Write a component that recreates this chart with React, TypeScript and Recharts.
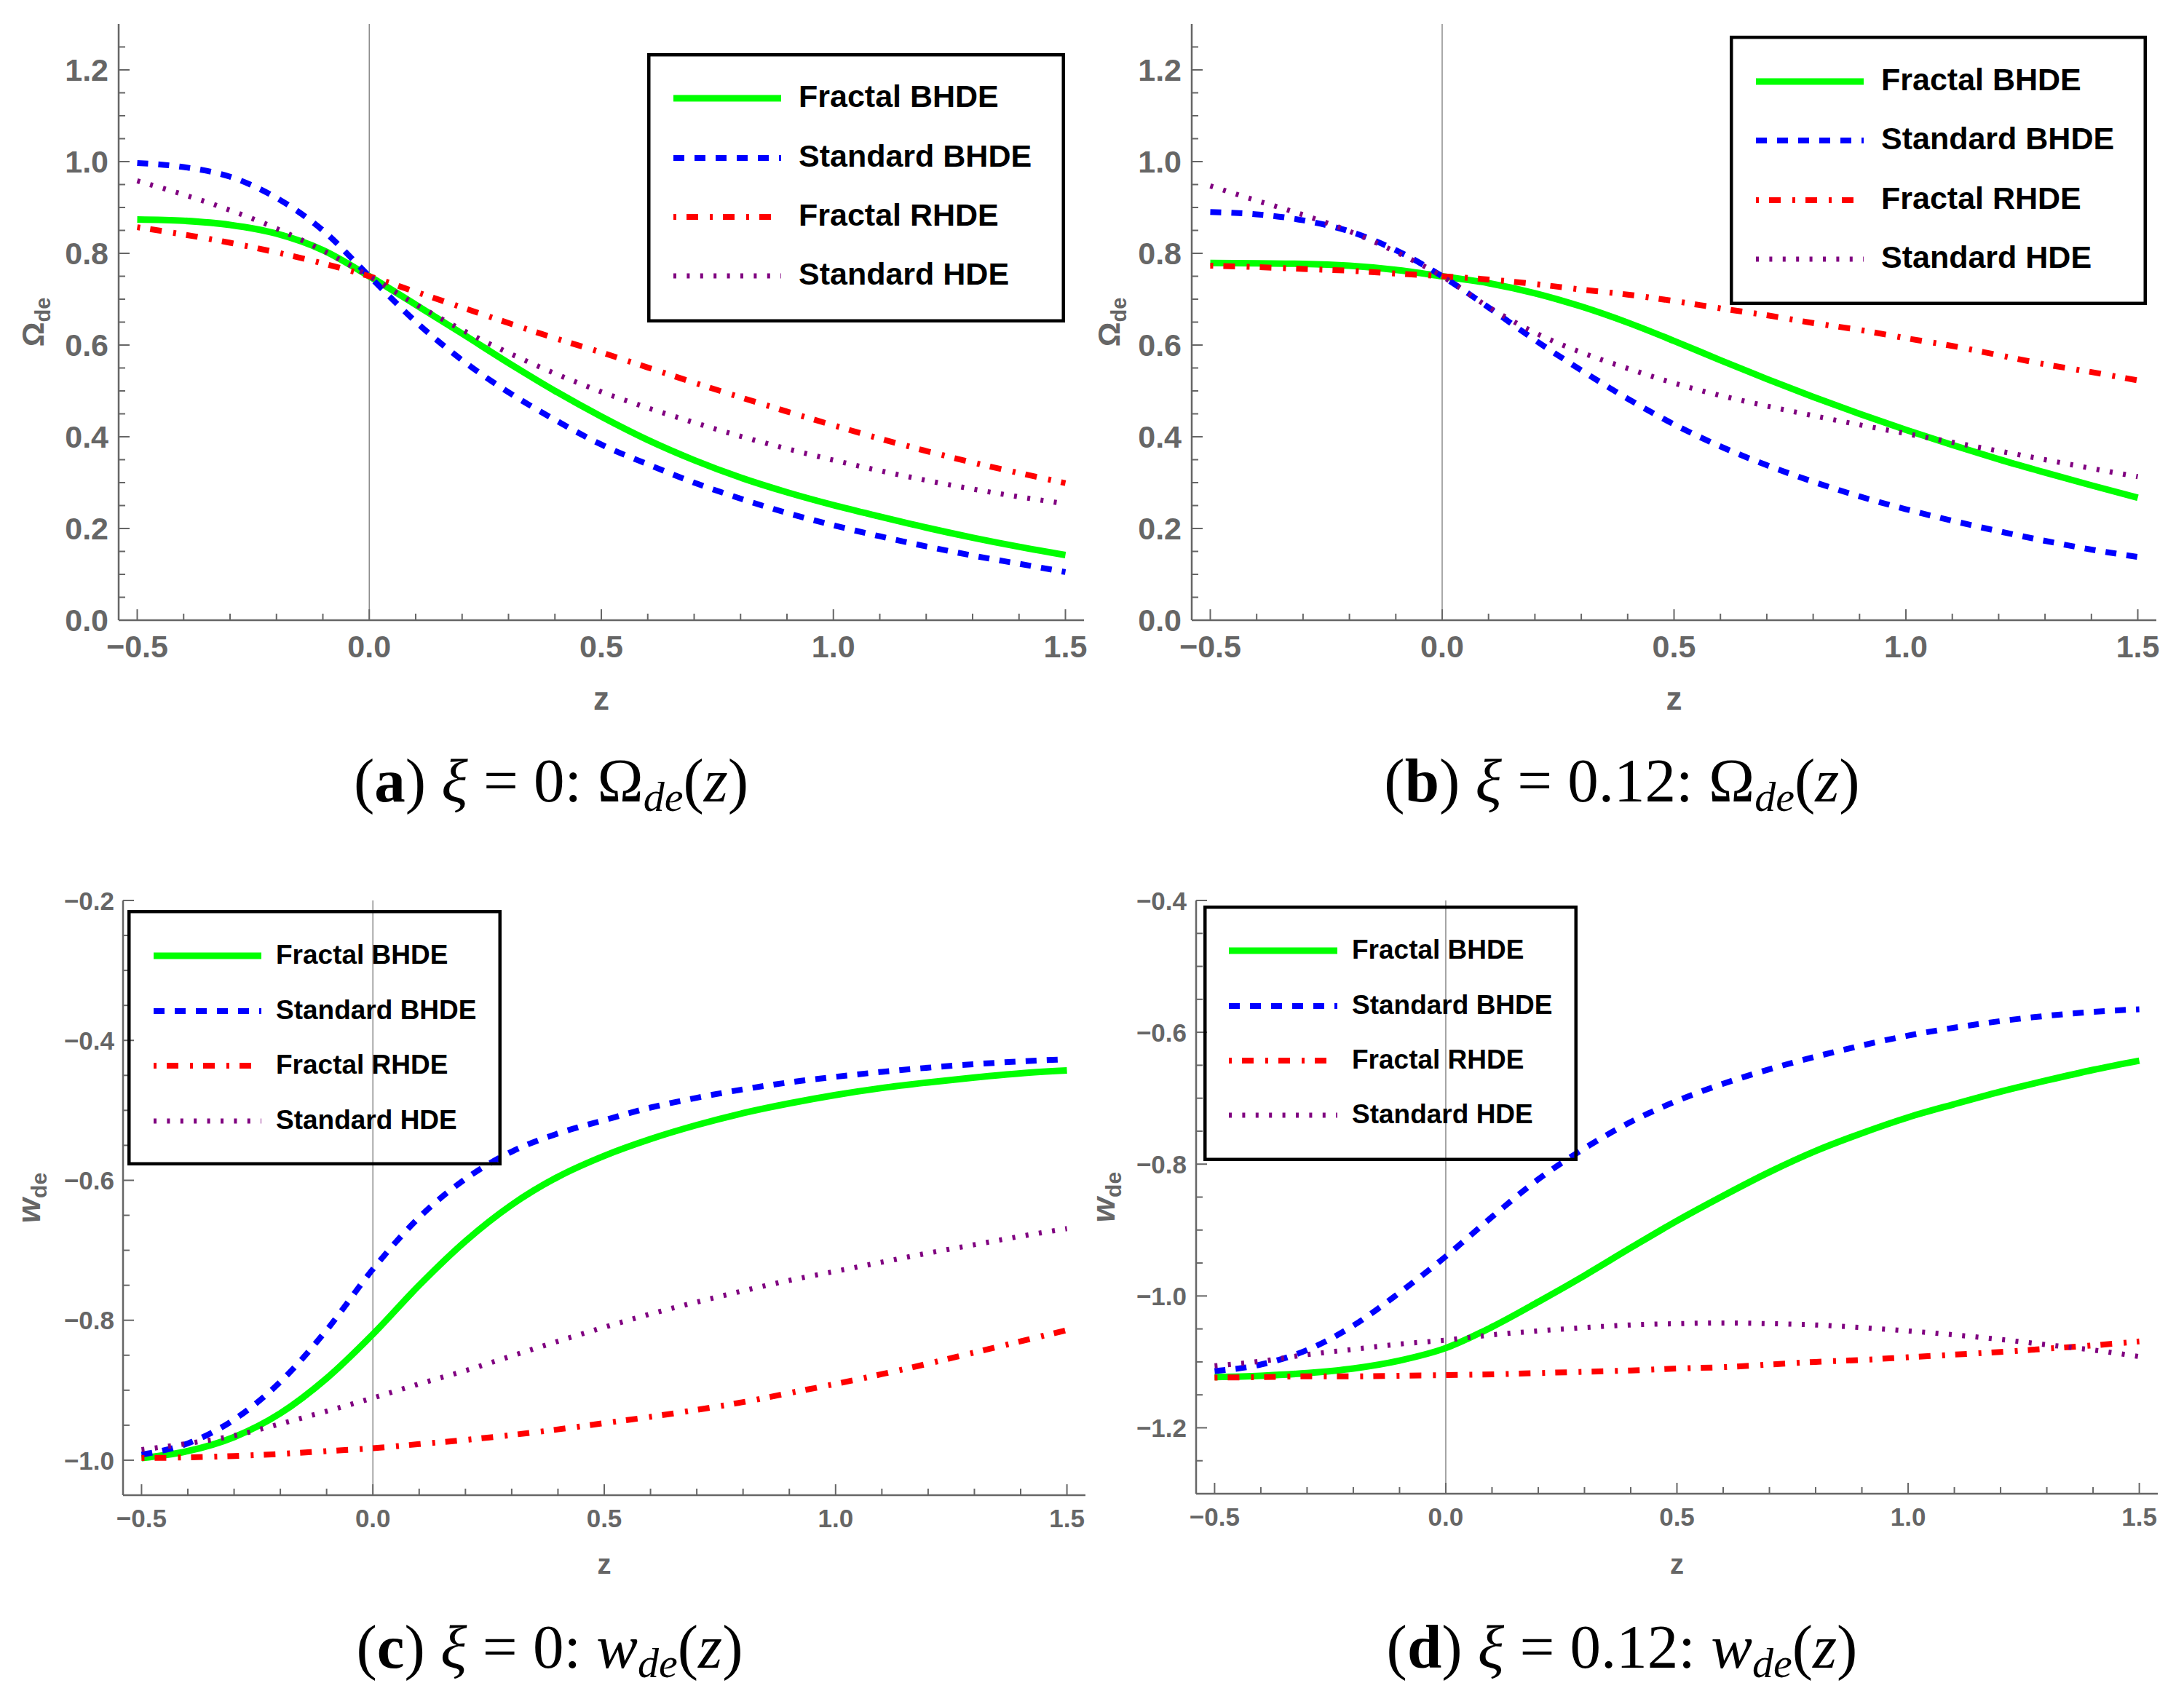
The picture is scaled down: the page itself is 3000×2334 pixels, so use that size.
import React from 'react';
import { LineChart, Line, XAxis, YAxis, ReferenceLine, Legend } from 'recharts';

// ---------------- data ----------------
const Z = [-0.5, -0.4, -0.3, -0.2, -0.1, 0, 0.1, 0.2, 0.3, 0.4, 0.5, 0.6, 0.7, 0.8, 0.9, 1.0, 1.1, 1.2, 1.3, 1.4, 1.5];

// (a) xi = 0 : Omega_de
const A_FRACTAL_BHDE = [0.874, 0.871, 0.862, 0.843, 0.807, 0.750, 0.688, 0.625, 0.561, 0.500, 0.444, 0.393, 0.349, 0.311, 0.279, 0.251, 0.226, 0.202, 0.180, 0.160, 0.142];
const A_STANDARD_BHDE = [0.997, 0.988, 0.967, 0.921, 0.850, 0.750, 0.651, 0.567, 0.497, 0.437, 0.383, 0.340, 0.300, 0.265, 0.234, 0.207, 0.183, 0.161, 0.141, 0.123, 0.105];
const A_FRACTAL_RHDE = [0.857, 0.841, 0.823, 0.802, 0.778, 0.750, 0.716, 0.682, 0.648, 0.615, 0.584, 0.551, 0.518, 0.486, 0.455, 0.425, 0.396, 0.369, 0.344, 0.321, 0.299];
const A_STANDARD_HDE = [0.958, 0.928, 0.894, 0.854, 0.806, 0.750, 0.689, 0.633, 0.583, 0.538, 0.498, 0.463, 0.431, 0.401, 0.374, 0.349, 0.326, 0.305, 0.286, 0.269, 0.254];

// (b) xi = 0.12 : Omega_de
const B_FRACTAL_BHDE = [0.779, 0.778, 0.777, 0.773, 0.764, 0.750, 0.735, 0.713, 0.684, 0.649, 0.609, 0.567, 0.526, 0.487, 0.450, 0.415, 0.382, 0.351, 0.322, 0.294, 0.267];
const B_STANDARD_BHDE = [0.890, 0.885, 0.872, 0.848, 0.807, 0.750, 0.682, 0.611, 0.545, 0.483, 0.427, 0.379, 0.338, 0.302, 0.270, 0.242, 0.217, 0.194, 0.173, 0.154, 0.138];
const B_FRACTAL_RHDE = [0.773, 0.770, 0.766, 0.762, 0.756, 0.750, 0.743, 0.733, 0.721, 0.710, 0.696, 0.680, 0.665, 0.648, 0.633, 0.615, 0.598, 0.578, 0.558, 0.541, 0.523];
const B_STANDARD_HDE = [0.947, 0.915, 0.884, 0.848, 0.803, 0.750, 0.683, 0.627, 0.584, 0.549, 0.517, 0.490, 0.467, 0.446, 0.426, 0.407, 0.388, 0.369, 0.350, 0.331, 0.313];

// (c) xi = 0 : w_de
const C_FRACTAL_BHDE = [-0.997, -0.987, -0.967, -0.933, -0.883, -0.820, -0.750, -0.687, -0.635, -0.595, -0.565, -0.541, -0.521, -0.504, -0.490, -0.478, -0.468, -0.460, -0.453, -0.447, -0.443];
const C_STANDARD_BHDE = [-0.992, -0.976, -0.942, -0.888, -0.814, -0.727, -0.653, -0.598, -0.559, -0.533, -0.514, -0.496, -0.482, -0.470, -0.460, -0.452, -0.445, -0.439, -0.434, -0.430, -0.427];
const C_FRACTAL_RHDE = [-0.997, -0.996, -0.994, -0.991, -0.987, -0.983, -0.977, -0.971, -0.964, -0.956, -0.947, -0.938, -0.928, -0.917, -0.904, -0.891, -0.877, -0.862, -0.846, -0.830, -0.814];
const C_STANDARD_HDE = [-0.985, -0.976, -0.965, -0.948, -0.930, -0.911, -0.891, -0.872, -0.851, -0.830, -0.810, -0.791, -0.774, -0.758, -0.743, -0.730, -0.717, -0.704, -0.692, -0.680, -0.669];

// (d) xi = 0.12 : w_de
const D_FRACTAL_BHDE = [-1.123, -1.121, -1.117, -1.110, -1.098, -1.079, -1.047, -1.009, -0.969, -0.927, -0.886, -0.848, -0.812, -0.780, -0.753, -0.729, -0.709, -0.690, -0.673, -0.657, -0.643];
const D_STANDARD_BHDE = [-1.114, -1.104, -1.082, -1.045, -0.995, -0.940, -0.880, -0.823, -0.776, -0.736, -0.704, -0.678, -0.656, -0.637, -0.620, -0.605, -0.593, -0.583, -0.575, -0.569, -0.565];
const D_FRACTAL_RHDE = [-1.124, -1.123, -1.122, -1.122, -1.121, -1.120, -1.119, -1.117, -1.115, -1.113, -1.110, -1.108, -1.104, -1.100, -1.097, -1.093, -1.089, -1.085, -1.080, -1.075, -1.069];
const D_STANDARD_HDE = [-1.106, -1.099, -1.089, -1.081, -1.073, -1.067, -1.059, -1.053, -1.048, -1.044, -1.042, -1.041, -1.042, -1.044, -1.048, -1.053, -1.059, -1.066, -1.074, -1.082, -1.092];

const SERIES_NAMES = ['Fractal BHDE', 'Standard BHDE', 'Fractal RHDE', 'Standard HDE'];
const SERIES_KEYS = ['fBHDE', 'sBHDE', 'fRHDE', 'sHDE'];

// ticks
const X_TICKS = [-0.5, -0.4, -0.3, -0.2, -0.1, 0, 0.1, 0.2, 0.3, 0.4, 0.5, 0.6, 0.7, 0.8, 0.9, 1.0, 1.1, 1.2, 1.3, 1.4, 1.5];
const X_MAJOR = [-0.5, 0, 0.5, 1.0, 1.5];
const Y_OMEGA_TICKS = [0, 0.05, 0.1, 0.15, 0.2, 0.25, 0.3, 0.35, 0.4, 0.45, 0.5, 0.55, 0.6, 0.65, 0.7, 0.75, 0.8, 0.85, 0.9, 0.95, 1.0, 1.05, 1.1, 1.15, 1.2, 1.25];
const Y_OMEGA_MAJOR = [0, 0.2, 0.4, 0.6, 0.8, 1.0, 1.2];
const Y_W0_TICKS = [-1.0, -0.95, -0.9, -0.85, -0.8, -0.75, -0.7, -0.65, -0.6, -0.55, -0.5, -0.45, -0.4, -0.35, -0.3, -0.25, -0.2];
const Y_W0_MAJOR = [-1.0, -0.8, -0.6, -0.4, -0.2];
const Y_W12_TICKS = [-1.25, -1.2, -1.15, -1.1, -1.05, -1.0, -0.95, -0.9, -0.85, -0.8, -0.75, -0.7, -0.65, -0.6, -0.55, -0.5, -0.45, -0.4];
const Y_W12_MAJOR = [-1.2, -1.0, -0.8, -0.6, -0.4];

// ---------------- styles ----------------
const FRAME = '#666666';
const SANS = "'Liberation Sans', Arial, Helvetica, sans-serif";
const SERIF = "'Liberation Serif', 'Times New Roman', serif";
const X_DOMAIN = [-0.54, 1.54];
const Y_AXIS_W = 100;
const X_AXIS_H = 100;

const LINE_STYLES = [
  { color: '#00ff00', width: 9, dash: undefined },
  { color: '#0000ff', width: 8, dash: '15 14' },
  { color: '#ff0000', width: 8, dash: '4 14 16 16' },
  { color: '#800080', width: 7, dash: '4 14.4' },
];

const near = (v, arr) => arr.some((m) => Math.abs(m - v) < 1e-6);
const fmt = (v) => {
  const s = Math.abs(v).toFixed(1);
  return v < -1e-9 ? '\u2212' + s : s;
};

const makeBottomTick = (majors, font, dy) => (p) => {
  const { x, y, payload } = p;
  const M = near(payload.value, majors);
  return (
    <g>
      <line x1={x} x2={x} y1={y} y2={y - (M ? 15 : 9)} stroke={FRAME} strokeWidth={2} />
      {M ? (
        <text x={x} y={y + dy} textAnchor="middle" fontFamily={SANS} fontWeight="bold" fontSize={font} fill={FRAME}>
          {fmt(payload.value)}
        </text>
      ) : null}
    </g>
  );
};
const makeTopTick = (majors) => (p) => {
  const { x, y, payload } = p;
  const M = near(payload.value, majors);
  return <line x1={x} x2={x} y1={y} y2={y + (M ? 15 : 9)} stroke={FRAME} strokeWidth={2} />;
};
const makeLeftTick = (majors, font, gap) => (p) => {
  const { x, y, payload } = p;
  const M = near(payload.value, majors);
  return (
    <g>
      <line x1={x} x2={x + (M ? 15 : 9)} y1={y} y2={y} stroke={FRAME} strokeWidth={2} />
      {M ? (
        <text x={x - gap} y={y + font * 0.36} textAnchor="end" fontFamily={SANS} fontWeight="bold" fontSize={font} fill={FRAME}>
          {fmt(payload.value)}
        </text>
      ) : null}
    </g>
  );
};
const makeRightTick = (majors) => (p) => {
  const { x, y, payload } = p;
  const M = near(payload.value, majors);
  return <line x1={x} x2={x - (M ? 15 : 9)} y1={y} y2={y} stroke={FRAME} strokeWidth={2} />;
};

const PANELS = [
  {
    id: 'a', left: 0, top: 0, w: 1500, h: 1050,
    plot: { l: 163, r: 1489, t: 33, b: 852 },
    yDomain: [0, 1.3], yTicks: Y_OMEGA_TICKS, yMajor: Y_OMEGA_MAJOR,
    tickFont: 43, xLabelDy: 51, yGap: 14,
    series: [A_FRACTAL_BHDE, A_STANDARD_BHDE, A_FRACTAL_RHDE, A_STANDARD_HDE],
    legend: { l: 889, t: 73, w: 574, h: 370, rows: [62, 144, 225, 306], lx: [36, 184], tx: 208, font: 43, base: 12 },
    yTitle: { sym: '\u03a9', italic: false, x: 60, font: 42, sub: 29, dy: 9 },
    xTitle: { dy: 123, font: 44 },
  },
  {
    id: 'b', left: 1460, top: 0, w: 1540, h: 1050,
    plot: { l: 177, r: 1502, t: 33, b: 852 },
    yDomain: [0, 1.3], yTicks: Y_OMEGA_TICKS, yMajor: Y_OMEGA_MAJOR,
    tickFont: 43, xLabelDy: 51, yGap: 14,
    series: [B_FRACTAL_BHDE, B_STANDARD_BHDE, B_FRACTAL_RHDE, B_STANDARD_HDE],
    legend: { l: 916, t: 49, w: 573, h: 370, rows: [63, 144, 226, 307], lx: [36, 184], tx: 208, font: 43, base: 12 },
    yTitle: { sym: '\u03a9', italic: false, x: 78, font: 42, sub: 29, dy: 9 },
    xTitle: { dy: 123, font: 44 },
  },
  {
    id: 'c', left: 0, top: 1160, w: 1500, h: 1100,
    plot: { l: 169, r: 1491, t: 77, b: 894 },
    yDomain: [-1.05, -0.2], yTicks: Y_W0_TICKS, yMajor: Y_W0_MAJOR,
    tickFont: 35, xLabelDy: 44, yGap: 12,
    series: [C_FRACTAL_BHDE, C_STANDARD_BHDE, C_FRACTAL_RHDE, C_STANDARD_HDE],
    legend: { l: 175, t: 90, w: 514, h: 351, rows: [63, 139, 214, 290], lx: [36, 184], tx: 204, font: 37, base: 11 },
    yTitle: { sym: 'w', italic: true, x: 55, font: 44, sub: 30, dy: 9 },
    xTitle: { dy: 108, font: 38 },
  },
  {
    id: 'd', left: 1460, top: 1160, w: 1540, h: 1100,
    plot: { l: 183, r: 1504, t: 77, b: 892 },
    yDomain: [-1.3, -0.4], yTicks: Y_W12_TICKS, yMajor: Y_W12_MAJOR,
    tickFont: 35, xLabelDy: 44, yGap: 13,
    series: [D_FRACTAL_BHDE, D_STANDARD_BHDE, D_FRACTAL_RHDE, D_STANDARD_HDE],
    legend: { l: 193, t: 84, w: 514, h: 351, rows: [62, 138, 213, 288], lx: [35, 184], tx: 204, font: 37, base: 11 },
    yTitle: { sym: 'w', italic: true, x: 71, font: 44, sub: 30, dy: 9 },
    xTitle: { dy: 110, font: 38 },
  },
];

const CAPTIONS = [
  { x: 757, y: 1101, letter: 'a', xi: '0', sym: '\u03a9', italic: false },
  { x: 2228, y: 1101, letter: 'b', xi: '0.12', sym: '\u03a9', italic: false },
  { x: 755, y: 2291, letter: 'c', xi: '0', sym: 'w', italic: true },
  { x: 2228, y: 2291, letter: 'd', xi: '0.12', sym: 'w', italic: true },
];

function LegendBox({ L }) {
  return (
    <svg width={L.w} height={L.h} style={{ display: 'block', overflow: 'visible' }}>
      <rect x={2.25} y={2.25} width={L.w - 4.5} height={L.h - 4.5} fill="none" stroke="#000" strokeWidth={4.5} />
      {SERIES_NAMES.map((name, i) => {
        const s = LINE_STYLES[i];
        const ry = L.rows[i];
        return (
          <g key={name}>
            <line x1={L.lx[0]} x2={L.lx[1]} y1={ry} y2={ry} stroke={s.color} strokeWidth={s.width} strokeDasharray={s.dash} />
            <text x={L.tx} y={ry + L.base} fontFamily={SANS} fontWeight="bold" fontSize={L.font} fill="#000">
              {name}
            </text>
          </g>
        );
      })}
    </svg>
  );
}

function Panel({ cfg }) {
  const data = Z.map((z, i) => {
    const row = { z };
    SERIES_KEYS.forEach((k, j) => {
      row[k] = cfg.series[j][i];
    });
    return row;
  });
  const margin = {
    left: cfg.plot.l - Y_AXIS_W,
    right: cfg.w - cfg.plot.r,
    top: cfg.plot.t,
    bottom: cfg.h - cfg.plot.b - X_AXIS_H,
  };
  const axisLine = { stroke: FRAME, strokeWidth: 2.5 };
  const midY = (cfg.plot.t + cfg.plot.b) / 2;
  const yt = cfg.yTitle;
  const L = cfg.legend;
  return (
    <div style={{ position: 'absolute', left: cfg.left, top: cfg.top, width: cfg.w, height: cfg.h }}>
      <LineChart width={cfg.w} height={cfg.h} data={data} margin={margin}>
        <XAxis
          xAxisId="x"
          dataKey="z"
          type="number"
          domain={X_DOMAIN}
          allowDataOverflow
          ticks={X_TICKS}
          interval={0}
          tickLine={false}
          tickSize={0}
          tickMargin={0}
          height={X_AXIS_H}
          axisLine={axisLine}
          tick={makeBottomTick(X_MAJOR, cfg.tickFont, cfg.xLabelDy)}
          label={{
            content: () => (
              <text
                x={(cfg.plot.l + cfg.plot.r) / 2}
                y={cfg.plot.b + cfg.xTitle.dy}
                textAnchor="middle"
                fontFamily={SANS}
                fontWeight="bold"
                fontSize={cfg.xTitle.font}
                fill={FRAME}
              >
                z
              </text>
            ),
          }}
        />
        <XAxis
          xAxisId="top"
          orientation="top"
          type="number"
          domain={X_DOMAIN}
          allowDataOverflow
          ticks={X_TICKS}
          interval={0}
          tickLine={false}
          tickSize={0}
          tickMargin={0}
          height={0}
          axisLine={axisLine}
          tick={makeTopTick(X_MAJOR)}
        />
        <YAxis
          yAxisId="y"
          type="number"
          domain={cfg.yDomain}
          allowDataOverflow
          ticks={cfg.yTicks}
          interval={0}
          tickLine={false}
          tickSize={0}
          tickMargin={0}
          width={Y_AXIS_W}
          axisLine={axisLine}
          tick={makeLeftTick(cfg.yMajor, cfg.tickFont, cfg.yGap)}
          label={{
            content: () => (
              <text
                x={yt.x}
                y={midY}
                transform={`rotate(-90 ${yt.x} ${midY})`}
                textAnchor="middle"
                fontFamily={SANS}
                fontWeight="bold"
                fontSize={yt.font}
                fill={FRAME}
              >
                <tspan fontStyle={yt.italic ? 'italic' : 'normal'}>{yt.sym}</tspan>
                <tspan fontSize={yt.sub} dy={yt.dy}>de</tspan>
              </text>
            ),
          }}
        />
        <YAxis
          yAxisId="right"
          orientation="right"
          type="number"
          domain={cfg.yDomain}
          allowDataOverflow
          ticks={cfg.yTicks}
          interval={0}
          tickLine={false}
          tickSize={0}
          tickMargin={0}
          width={0}
          axisLine={axisLine}
          tick={makeRightTick(cfg.yMajor)}
        />
        <ReferenceLine xAxisId="x" yAxisId="y" x={0} stroke="#8c8c8c" strokeWidth={1.5} />
        {SERIES_KEYS.map((k, i) => (
          <Line
            key={k}
            xAxisId="x"
            yAxisId="y"
            type="monotone"
            dataKey={k}
            name={SERIES_NAMES[i]}
            stroke={LINE_STYLES[i].color}
            strokeWidth={LINE_STYLES[i].width}
            strokeDasharray={LINE_STYLES[i].dash}
            strokeLinecap="butt"
            dot={false}
            activeDot={false}
            isAnimationActive={false}
          />
        ))}
        <Legend
          layout="vertical"
          align="center"
          verticalAlign="middle"
          wrapperStyle={{ left: L.l, top: L.t, width: L.w, height: L.h, right: 'auto', bottom: 'auto' }}
          content={() => <LegendBox L={L} />}
        />
      </LineChart>
    </div>
  );
}

function Caption({ c }) {
  return (
    <text x={c.x} y={c.y} textAnchor="middle" fontFamily={SERIF} fontSize={85} fill="#000">
      <tspan>(</tspan>
      <tspan fontWeight="bold">{c.letter}</tspan>
      <tspan>{') '}</tspan>
      <tspan fontStyle="italic">{'\u03be'}</tspan>
      <tspan>{' = ' + c.xi + ': '}</tspan>
      <tspan fontStyle={c.italic ? 'italic' : 'normal'}>{c.sym}</tspan>
      <tspan fontStyle="italic" fontSize={58} dy={13}>de</tspan>
      <tspan dy={-13}>(</tspan>
      <tspan fontStyle="italic">z</tspan>
      <tspan>)</tspan>
    </text>
  );
}

export default function App() {
  return (
    <>
      <style>{'body{margin:0;background:#fff;}'}</style>
      <div style={{ position: 'relative', width: 3000, height: 2334, background: '#fff', overflow: 'hidden' }}>
        {PANELS.map((p) => (
          <Panel key={p.id} cfg={p} />
        ))}
        <svg width={3000} height={2334} style={{ position: 'absolute', left: 0, top: 0, pointerEvents: 'none' }}>
          {CAPTIONS.map((c) => (
            <Caption key={c.letter} c={c} />
          ))}
        </svg>
      </div>
    </>
  );
}
